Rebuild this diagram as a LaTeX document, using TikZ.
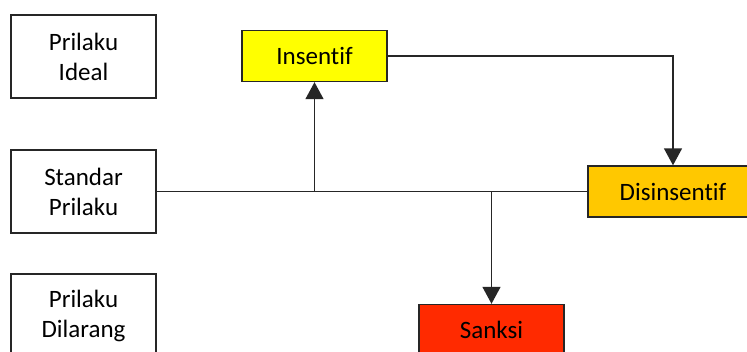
\documentclass[tikz,border=0pt]{standalone}
\usepackage{fontspec}
\setmainfont{Carlito}[Ligatures=NoCommon]
\usetikzlibrary{arrows.meta}
\definecolor{insyellow}{HTML}{FFFF00}
\definecolor{disorange}{HTML}{FFC800}
\definecolor{sanred}{HTML}{FF2A00}
\tikzset{
  box/.style={draw=black!85, line width=1.4pt, minimum width=145pt, minimum height=83pt,
    align=center, inner sep=0pt, font=\fontsize{25}{30}\selectfont},
  flat/.style={box, minimum height=51pt},
  link/.style={line width=1.5pt, black!85},
  arr/.style={link, -{Triangle[width=18pt,length=17pt]}}
}
\begin{document}
\begin{tikzpicture}[x=1pt, y=-1pt]
\useasboundingbox (0,0) rectangle (747,352);
\clip (0,0) rectangle (747,352);
\fill[white] (0,0) rectangle (747,352);

% left column
\node[box] (ideal) at (83.5,56.5) {Prilaku\\Ideal};
\node[box] (std)   at (83.5,191.5) {Standar\\Prilaku};
\node[box] (dil)   at (83.5,315.5) {Prilaku\\Dilarang};

% consequence boxes
\node[flat, fill=insyellow] (ins) at (314.5,56) {Insentif};
\node[flat, fill=disorange, minimum width=170pt] (dis) at (673,191.5) {Disinsentif};
\node[flat, fill=sanred] (san) at (491.5,330) {Sanksi};

% connectors
\draw[link] (std.east) -- (dis.west);
\coordinate (jins) at (ins.south |- std.east);
\coordinate (jsan) at (san.north |- std.east);
\draw[arr] (jins) -- (ins.south);
\draw[arr] (jsan) -- (san.north);
\draw[arr] (ins.east) -| (dis.north);
\end{tikzpicture}
\end{document}
